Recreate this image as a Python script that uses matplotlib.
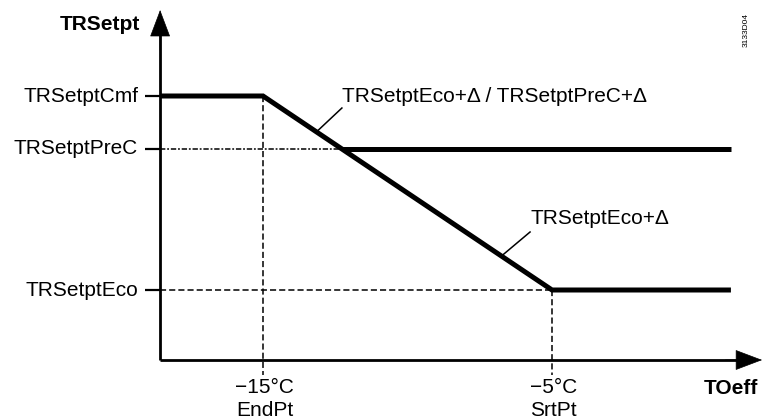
import matplotlib
matplotlib.use("Agg")
import matplotlib.pyplot as plt

plt.rcParams['font.family'] = ['Liberation Sans', 'DejaVu Sans']

# Outside temperature break points (°C)
t_end = -15.0   # EndPt
t_srt = -5.0    # SrtPt
t_axis = -18.56  # position of the vertical axis
t_right = 1.19   # right end of the characteristic lines

# Room setpoint levels (schematic units, x axis at 0)
level_names = ["TRSetptCmf", "TRSetptPreC", "TRSetptEco"]
level_values = [26.4, 21.1, 7.0]
cmf, prec, eco = level_values

x_labels = ["\u221215°C", "\u22125°C"]
x_sublabels = ["EndPt", "SrtPt"]
x_positions = [t_end, t_srt]

fig = plt.figure(figsize=(7.63, 4.2), dpi=100)
ax = fig.add_axes([0, 0, 1, 1])
ax.set_xlim(-24.10, 2.30)
ax.set_ylim(-6.0, 36.0)
ax.axis("off")

FS = 15
thick = 3.6

# axes with arrow heads
ax.plot([t_axis, t_axis], [0, 33.0], color="black", lw=2, solid_capstyle="butt")
ax.plot([t_axis, 1.4], [0, 0], color="black", lw=2, solid_capstyle="butt")
ax.annotate("", xy=(t_axis, 35.0), xytext=(t_axis, 31.0),
            arrowprops=dict(arrowstyle="-|>,head_length=18,head_width=6.8",
                            mutation_scale=1, color="black", lw=0.5,
                            shrinkA=0, shrinkB=0))
ax.annotate("", xy=(2.27, 0), xytext=(1.0, 0),
            arrowprops=dict(arrowstyle="-|>,head_length=18,head_width=6.8",
                            mutation_scale=1, color="black", lw=0.5,
                            shrinkA=0, shrinkB=0))

# level ticks and labels
for name, val in zip(level_names, level_values):
    ax.plot([-19.08, t_axis], [val, val], color="black", lw=1.6, solid_capstyle="butt")
    ax.text(-19.32, val, name, ha="right", va="center", fontsize=FS)

# intersection of the slope with the pre-comfort level
t_int = t_end + (cmf - prec) / (cmf - eco) * (t_srt - t_end)

# helper lines
ax.plot([t_axis, t_int], [prec, prec], color="black", lw=1.1,
        linestyle=(0, (3.5, 1.2, 1.2, 1.2)))
ax.plot([t_axis, t_srt], [eco, eco], color="black", lw=1.1, linestyle=(0, (4, 2)))
ax.plot([t_end, t_end], [cmf, -1.5], color="black", lw=1.1, linestyle=(0, (4, 2)))
ax.plot([t_srt, t_srt], [eco, -1.5], color="black", lw=1.1, linestyle=(0, (4, 2)))

# characteristic lines
ax.plot([t_axis, t_end, t_srt, t_right], [cmf, cmf, eco, eco],
        color="black", lw=thick, solid_joinstyle="miter", solid_capstyle="butt")
ax.plot([t_int, t_right], [prec, prec], color="black", lw=thick, solid_capstyle="butt")


def on_slope(t):
    return cmf + (t - t_end) / (t_srt - t_end) * (eco - cmf)


# annotations with leader lines
ann = [("TRSetptEco+\u0394 / TRSetptPreC+\u0394", -12.27, 26.3, -12.27, 25.2, -13.15),
       ("TRSetptEco+\u0394", -5.76, 14.1, -5.76, 12.8, -6.75)]
for text, tx, ty, lx0, ly0, lx1 in ann:
    ax.text(tx, ty, text, ha="left", va="center", fontsize=FS)
    ax.plot([lx0, lx1], [ly0, on_slope(lx1)], color="black", lw=1.1)

# axis titles
ax.text(-19.26, 33.5, "TRSetpt", ha="right", va="center", fontsize=FS, fontweight="bold")
ax.text(2.13, -2.8, "TOeff", ha="right", va="center", fontsize=FS, fontweight="bold")

# break point labels
for pos, lab, sub in zip(x_positions, x_labels, x_sublabels):
    ax.text(pos + 0.05, -2.75, lab, ha="center", va="center", fontsize=FS)
    ax.text(pos + 0.05, -5.0, sub, ha="center", va="center", fontsize=FS)

ax.text(1.71, 33.0, "3133D04", rotation=90, ha="center", va="center", fontsize=6)

fig.savefig("out.png", dpi=100)
